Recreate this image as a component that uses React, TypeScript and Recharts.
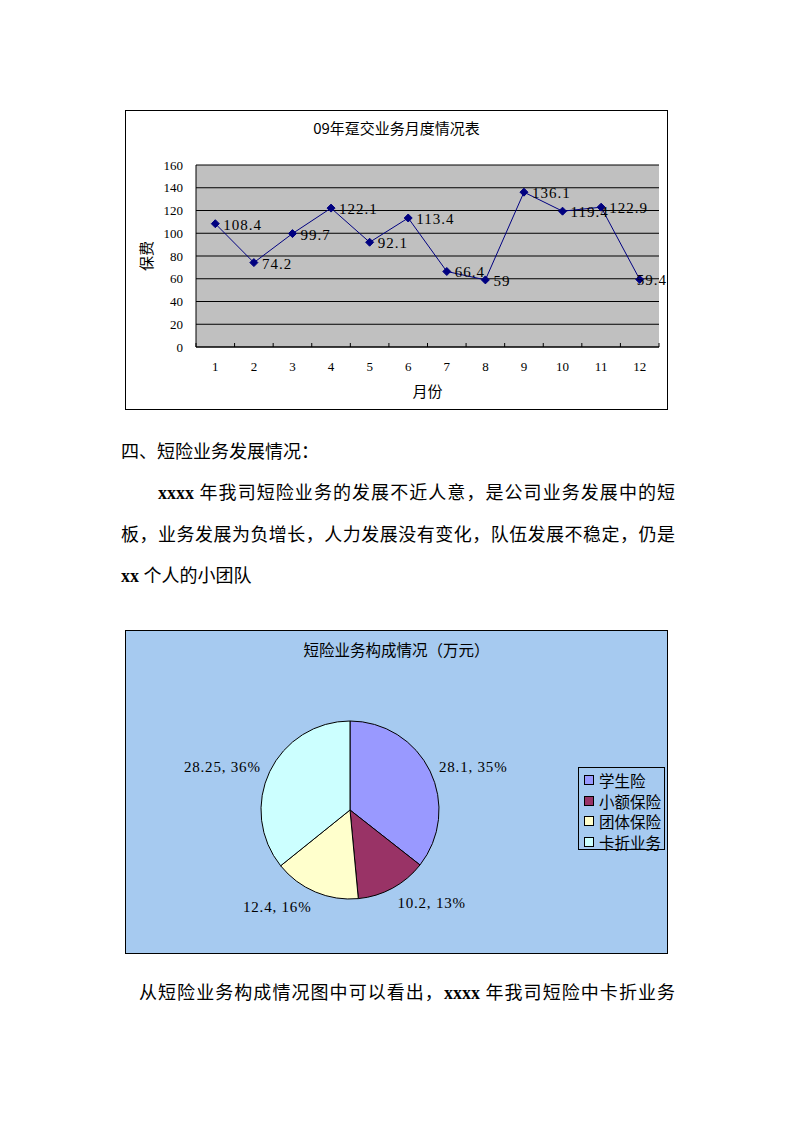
import React from 'react';
import { LineChart, Line, XAxis, YAxis, CartesianGrid, LabelList, PieChart, Pie, Cell, Legend } from 'recharts';

const MONTHS = ['1', '2', '3', '4', '5', '6', '7', '8', '9', '10', '11', '12'];
const PREMIUMS = [108.4, 74.2, 99.7, 122.1, 92.1, 113.4, 66.4, 59, 136.1, 119.4, 122.9, 59.4];
const Y_TICKS = [0, 20, 40, 60, 80, 100, 120, 140, 160];

const PIE_NAMES = ['学生险', '小额保险', '团体保险', '卡折业务'];
const PIE_VALUES = [28.1, 10.2, 12.4, 28.25];
const PIE_PERCENTS = ['35%', '13%', '16%', '36%'];
const PIE_COLORS = ['#9999FF', '#993366', '#FFFFCC', '#CCFFFF'];

const lineData = MONTHS.map((m, i) => ({ month: m, premium: PREMIUMS[i] }));
const pieData = PIE_NAMES.map((n, i) => ({ name: n, value: PIE_VALUES[i] }));

const SERIF = '"Liberation Serif", "Noto Sans CJK SC", serif';
const CJK = '"Noto Sans CJK SC", sans-serif';
const RADIAN = Math.PI / 180;

// plot area is 463px wide, 12 category bands
const BAND = 463 / 12;

function MonthTick(props: any) {
  const { x, y, payload, index } = props;
  const axisY = y - 15;
  return (
    <g>
      <line x1={x - BAND / 2} x2={x - BAND / 2} y1={axisY} y2={axisY - 4} stroke="#000" />
      {index === MONTHS.length - 1 && (
        <line x1={x + BAND / 2} x2={x + BAND / 2} y1={axisY} y2={axisY - 4} stroke="#000" />
      )}
      <text x={x} y={y} dy="0.71em" textAnchor="middle" fontSize={13} fontFamily={SERIF} fill="#000">
        {payload.value}
      </text>
    </g>
  );
}

function Diamond(props: any) {
  const { cx, cy, index } = props;
  if (cx == null || cy == null) return null;
  const s = 4;
  return (
    <path
      key={`d-${index}`}
      d={`M${cx},${cy - s}L${cx + s},${cy}L${cx},${cy + s}L${cx - s},${cy}Z`}
      fill="#000080"
      stroke="#000080"
    />
  );
}

// value label to the right of the point; the last one is pulled back so it stays in the frame
function PointLabel(props: any) {
  const { x, y, value, index } = props;
  const last = index === PREMIUMS.length - 1;
  return (
    <text
      x={x + (last ? -3 : 8)}
      y={y + 1}
      dominantBaseline="central"
      fontSize={15}
      fontFamily={SERIF}
      letterSpacing={1}
      fill="#000"
    >
      {value}
    </text>
  );
}

function renderPieLabel(props: any) {
  const { cx, cy, midAngle, outerRadius, index } = props;
  const r = outerRadius + 10;
  const cos = Math.cos(-midAngle * RADIAN);
  const sin = Math.sin(-midAngle * RADIAN);
  const x = cx + r * cos;
  const y = cy + r * sin + (sin > 0 ? 6 : 0);
  return (
    <text
      key={`l-${index}`}
      x={x}
      y={y}
      textAnchor={cos >= 0 ? 'start' : 'end'}
      dominantBaseline="central"
      fontSize={15}
      fontFamily={SERIF}
      letterSpacing={0.8}
      fill="#000"
    >
      {`${PIE_VALUES[index]}, ${PIE_PERCENTS[index]}`}
    </text>
  );
}

function PieLegend() {
  return (
    <div style={{ border: '1px solid #000', width: 85, height: 79, paddingTop: 2, background: '#A6CAF0' }}>
      {PIE_NAMES.map((n, i) => (
        <div key={n} style={{ display: 'flex', alignItems: 'center', height: 20.5 }}>
          <span
            style={{
              display: 'inline-block',
              width: 8,
              height: 8,
              border: '1px solid #000',
              background: PIE_COLORS[i],
              marginLeft: 5,
              marginRight: 5,
            }}
          />
          <span style={{ fontSize: 15.5, fontFamily: CJK, lineHeight: '20px', color: '#000', whiteSpace: 'nowrap' }}>{n}</span>
        </div>
      ))}
    </div>
  );
}

function TextLine({ left, right, cy, justify, children }: any) {
  return (
    <div
      style={{
        position: 'absolute',
        left,
        width: right ? right - left : undefined,
        top: cy - 12,
        height: 24,
        lineHeight: '24px',
        fontSize: 18,
        fontFamily: SERIF,
        color: '#000',
        whiteSpace: 'nowrap',
        textAlign: justify ? 'justify' : 'left',
        textAlignLast: justify ? 'justify' : 'auto',
      }}
    >
      {children}
    </div>
  );
}

const X = ({ children }: any) => <b style={{ fontFamily: '"Liberation Serif", serif' }}>{children}</b>;

export default function App() {
  return (
    <div style={{ position: 'absolute', left: 0, top: 0, width: 794, height: 1123, background: '#fff' }}>
      {/* monthly premium line chart */}
      <div
        style={{
          position: 'absolute',
          left: 125,
          top: 110,
          width: 543,
          height: 300,
          border: '1px solid #000',
          boxSizing: 'border-box',
          background: '#fff',
        }}
      >
        <LineChart width={541} height={298} data={lineData} margin={{ top: 54, right: 8, bottom: 12, left: 0 }}>
          <CartesianGrid vertical={false} stroke="#000" fill="#C0C0C0" horizontalValues={Y_TICKS} />
          <XAxis
            dataKey="month"
            interval={0}
            padding={{ left: BAND / 2, right: BAND / 2 }}
            axisLine={{ stroke: '#000' }}
            tickLine={false}
            tickSize={0}
            tickMargin={15}
            tick={<MonthTick />}
            height={50}
            label={{ value: '月份', position: 'insideBottom', offset: 0, fontSize: 15, fontFamily: CJK, fill: '#000' }}
          />
          <YAxis
            domain={[0, 160]}
            ticks={Y_TICKS}
            interval={0}
            width={70}
            axisLine={{ stroke: '#000' }}
            tickLine={false}
            tickMargin={7}
            tick={{ fontSize: 13, fontFamily: SERIF, fill: '#000' }}
            label={{
              value: '保费',
              angle: -90,
              position: 'insideLeft',
              offset: 21,
              fontSize: 15,
              fontFamily: CJK,
              fill: '#000',
              style: { textAnchor: 'middle' },
            }}
          />
          <YAxis
            yAxisId="r"
            orientation="right"
            width={0}
            domain={[0, 160]}
            ticks={Y_TICKS}
            interval={0}
            tick={false}
            tickLine={false}
            axisLine={{ stroke: '#808080' }}
          />
          <Line
            dataKey="premium"
            stroke="#000080"
            strokeWidth={1}
            dot={Diamond}
            activeDot={false}
            isAnimationActive={false}
          >
            <LabelList dataKey="premium" content={<PointLabel />} />
          </Line>
        </LineChart>
        <div
          style={{
            position: 'absolute',
            left: 0,
            right: 0,
            top: 7,
            textAlign: 'center',
            fontSize: 15,
            lineHeight: '20px',
            fontFamily: CJK,
            color: '#000',
          }}
        >
          09年趸交业务月度情况表
        </div>
      </div>

      <TextLine left={121} cy={452}>四、短险业务发展情况：</TextLine>
      <TextLine left={158} right={675} cy={493} justify>
        <X>xxxx</X> 年我司短险业务的发展不近人意，是公司业务发展中的短
      </TextLine>
      <TextLine left={121} right={675} cy={535} justify>
        板，业务发展为负增长，人力发展没有变化，队伍发展不稳定，仍是
      </TextLine>
      <TextLine left={121} cy={576}>
        <X>xx</X> 个人的小团队
      </TextLine>

      {/* short-term business composition pie */}
      <div
        style={{
          position: 'absolute',
          left: 125,
          top: 630,
          width: 543,
          height: 324,
          border: '1px solid #000',
          boxSizing: 'border-box',
          background: '#A6CAF0',
        }}
      >
        <PieChart width={541} height={322} margin={{ top: 0, right: 0, bottom: 0, left: 0 }}>
          <Pie
            data={pieData}
            dataKey="value"
            nameKey="name"
            cx={224}
            cy={179}
            outerRadius={89}
            startAngle={90}
            endAngle={-270}
            stroke="#000"
            strokeWidth={1}
            label={renderPieLabel}
            labelLine={false}
            isAnimationActive={false}
          >
            {pieData.map((d, i) => (
              <Cell key={d.name} fill={PIE_COLORS[i]} />
            ))}
          </Pie>
          <Legend
            layout="vertical"
            align="right"
            verticalAlign="top"
            content={<PieLegend />}
            wrapperStyle={{ position: 'absolute', left: 452, top: 136, right: 'auto', bottom: 'auto', width: 'auto' }}
          />
        </PieChart>
        <div
          style={{
            position: 'absolute',
            left: 0,
            right: 0,
            top: 8,
            textAlign: 'center',
            fontSize: 15.5,
            lineHeight: '20px',
            fontFamily: CJK,
            color: '#000',
          }}
        >
          短险业务构成情况（万元）
        </div>
      </div>

      <TextLine left={139} right={675} cy={993} justify>
        从短险业务构成情况图中可以看出，<X>xxxx</X> 年我司短险中卡折业务
      </TextLine>
    </div>
  );
}
